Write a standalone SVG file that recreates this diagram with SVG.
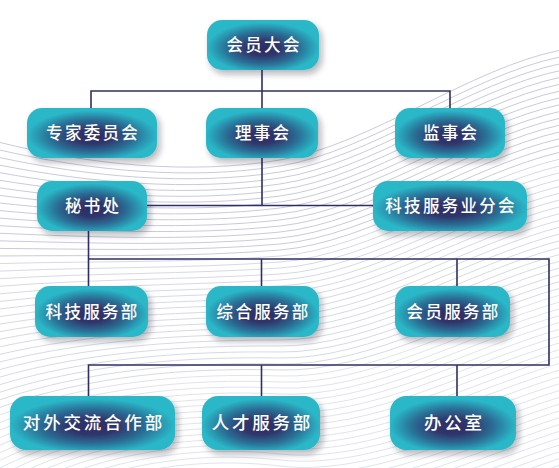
<svg xmlns="http://www.w3.org/2000/svg" width="559" height="468" viewBox="0 0 559 468">
<defs>
<radialGradient id="g" cx="0.5" cy="0.55" r="0.5" fx="0.5" fy="0.58">
<stop offset="0" stop-color="#2e2b62"/>
<stop offset="0.3" stop-color="#2f376c"/>
<stop offset="0.65" stop-color="#2b6f96"/>
<stop offset="1" stop-color="#2ab8c8"/>
</radialGradient>
<filter id="sh" x="-20%" y="-30%" width="140%" height="170%">
<feDropShadow dx="3" dy="4" stdDeviation="3" flood-color="#1a1a2a" flood-opacity="0.32"/>
</filter>
</defs>
<style>
.bg path{fill:none;stroke-width:1}
.a path{stroke:#c9cbdb}
.b path{stroke:#d6dae4}
.c path{stroke:#e0e4eb}
.node rect{fill:url(#g);filter:url(#sh)}
.node text{fill:#ffffff;font-family:"Noto Sans CJK SC","Noto Sans",sans-serif;font-weight:500;font-size:16.5px;letter-spacing:2.3px;text-anchor:middle}
.big text{font-size:17.5px;letter-spacing:2.8px}
.conn path{fill:none;stroke:#2f2f66;stroke-width:1.6}
</style>
<rect width="559" height="468" fill="#ffffff"/>
<g class="bg">
<g class="a">
<path d="M-2,142 C90,165 190,175 280,160 S470,68 561,50"/>
<path d="M-2,149.6 C90,171 190,180.5 280,166 S470,75 561,56.8"/>
<path d="M-2,157.2 C90,177 190,186 280,172 S470,82 561,63.6"/>
<path d="M-2,164.8 C90,183 190,191.5 280,178 S470,89 561,70.4"/>
<path d="M-2,172.4 C90,189 190,197 280,184 S470,96 561,77.2"/>
<path d="M-2,180 C90,195 190,202.5 280,190 S470,103 561,84"/>
<path d="M-2,187.6 C90,201 190,208 280,196 S470,110 561,90.8"/>
<path d="M-2,195.2 C90,207 190,213.5 280,202 S470,117 561,97.6"/>
<path d="M-2,202.8 C90,213 190,219 280,208 S470,124 561,104.4"/>
<path d="M-2,210.4 C90,219 190,224.5 280,214 S470,131 561,111.2"/>
<path d="M-2,218 C90,225 190,230 280,220 S470,138 561,118"/>
<path d="M-2,225.6 C90,231 190,235.5 280,226 S470,145 561,124.8"/>
<path d="M-2,233.2 C90,237 190,241 280,232 S470,152 561,131.6"/>
<path d="M-2,240.8 C90,243 190,246.5 280,238 S470,159 561,138.4"/>
<path d="M-2,248.4 C90,249 190,252 280,244 S470,166 561,145.2"/>
<path d="M-2,256 C90,255 190,257.5 280,250 S470,173 561,152"/>
</g>
<g class="b">
<path d="M-2,263.6 C90,261 190,263 280,256 S470,180 561,158.8"/>
<path d="M-2,271.2 C90,267 190,268.5 280,262 S470,187 561,165.6"/>
<path d="M-2,278.8 C90,273 190,274 280,268 S470,194 561,172.4"/>
<path d="M-2,286.4 C90,279 190,279.5 280,274 S470,201 561,179.2"/>
<path d="M-2,294 C90,285 190,285 280,280 S470,208 561,186"/>
<path d="M-2,301.6 C90,291 190,290.5 280,286 S470,215 561,192.8"/>
<path d="M-2,309.2 C90,297 190,296 280,292 S470,222 561,199.6"/>
<path d="M-2,316.8 C90,303 190,301.5 280,298 S470,229 561,206.4"/>
<path d="M-2,324.4 C90,309 190,307 280,304 S470,236 561,213.2"/>
<path d="M-2,332 C90,315 190,312.5 280,310 S470,243 561,220"/>
<path d="M-2,339.6 C90,321 190,318 280,316 S470,250 561,226.8"/>
<path d="M-2,347.2 C90,327 190,323.5 280,322 S470,257 561,233.6"/>
<path d="M-2,354.8 C90,333 190,329 280,328 S470,264 561,240.4"/>
<path d="M-2,362.4 C90,339 190,334.5 280,334 S470,271 561,247.2"/>
<path d="M-2,370 C90,345 190,340 280,340 S470,278 561,254"/>
<path d="M-2,377.6 C90,351 190,345.5 280,346 S470,285 561,260.8"/>
<path d="M-2,385.2 C90,357 190,351 280,352 S470,292 561,267.6"/>
<path d="M-2,392.8 C90,363 190,356.5 280,358 S470,299 561,274.4"/>
<path d="M-2,400.4 C90,369 190,362 280,364 S470,306 561,281.2"/>
<path d="M-2,408 C90,375 190,367.5 280,370 S470,313 561,288"/>
</g>
<g class="c">
<path d="M-2,415.6 C90,381 190,373 280,376 S470,320 561,294.8"/>
<path d="M-2,423.2 C90,387 190,378.5 280,382 S470,327 561,301.6"/>
<path d="M-2,430.8 C90,393 190,384 280,388 S470,334 561,308.4"/>
<path d="M-2,438.4 C90,399 190,389.5 280,394 S470,341 561,315.2"/>
<path d="M-2,446 C90,405 190,395 280,400 S470,348 561,322"/>
<path d="M-2,453.6 C90,411 190,400.5 280,406 S470,355 561,328.8"/>
<path d="M-2,461.2 C90,417 190,406 280,412 S470,362 561,335.6"/>
<path d="M-2,468.8 C90,423 190,411.5 280,418 S470,369 561,342.4"/>
<path d="M-2,476.4 C90,429 190,417 280,424 S470,376 561,349.2"/>
<path d="M-2,484 C90,435 190,422.5 280,430 S470,383 561,356"/>
<path d="M-2,491.6 C90,441 190,428 280,436 S470,390 561,362.8"/>
<path d="M-2,499.2 C90,447 190,433.5 280,442 S470,397 561,369.6"/>
<path d="M-2,506.8 C90,453 190,439 280,448 S470,404 561,376.4"/>
<path d="M-2,514.4 C90,459 190,444.5 280,454 S470,411 561,383.2"/>
<path d="M-2,522 C90,465 190,450 280,460 S470,418 561,390"/>
<path d="M-2,529.6 C90,471 190,455.5 280,466 S470,425 561,396.8"/>
<path d="M-2,537.2 C90,477 190,461 280,472 S470,432 561,403.6"/>
<path d="M-2,544.8 C90,483 190,466.5 280,478 S470,439 561,410.4"/>
<path d="M-2,552.4 C90,489 190,472 280,484 S470,446 561,417.2"/>
<path d="M-2,560 C90,495 190,477.5 280,490 S470,453 561,424"/>
<path d="M-2,567.6 C90,501 190,483 280,496 S470,460 561,430.8"/>
<path d="M-2,575.2 C90,507 190,488.5 280,502 S470,467 561,437.6"/>
<path d="M-2,582.8 C90,513 190,494 280,508 S470,474 561,444.4"/>
<path d="M-2,590.4 C90,519 190,499.5 280,514 S470,481 561,451.2"/>
<path d="M-2,598 C90,525 190,505 280,520 S470,488 561,458"/>
<path d="M-2,605.6 C90,531 190,510.5 280,526 S470,495 561,464.8"/>
</g>
</g>
<g id="connectors" class="conn">
<path d="M262,70 V108"/>
<path d="M91,108 V91 H450 V108"/>
<path d="M262,158 V205.5"/>
<path d="M147,205.5 H374"/>
<path d="M88.5,231 V286"/>
<path d="M88.5,259 H549 V365 H88.5 V396"/>
<path d="M261.5,259 V286"/>
<path d="M457,259 V286"/>
<path d="M261.5,365 V396"/>
<path d="M457,365 V396"/>
</g>
<g id="n-huiyuandahui" class="node"><rect x="207" y="20" width="112" height="50" rx="15"/><text x="264.1" y="51">会员大会</text></g>
<g id="n-zhuanjia" class="node"><rect x="27" y="108" width="130" height="50" rx="15"/><text x="93.1" y="139">专家委员会</text></g>
<g id="n-lishihui" class="node"><rect x="206" y="108" width="112" height="50" rx="15"/><text x="263.1" y="139">理事会</text></g>
<g id="n-jianshihui" class="node"><rect x="395" y="108" width="110" height="50" rx="15"/><text x="451.1" y="139">监事会</text></g>
<g id="n-mishuchu" class="node"><rect x="37" y="181" width="110" height="50" rx="15"/><text x="93.1" y="212">秘书处</text></g>
<g id="n-fenhui" class="node"><rect x="373" y="181" width="154" height="50" rx="15"/><text x="451.1" y="212">科技服务业分会</text></g>
<g id="n-kejibu" class="node"><rect x="35" y="286" width="113" height="51" rx="15"/><text x="92.6" y="317.5">科技服务部</text></g>
<g id="n-zonghebu" class="node"><rect x="206" y="286" width="113" height="51" rx="15"/><text x="263.6" y="317.5">综合服务部</text></g>
<g id="n-huiyuanbu" class="node"><rect x="395" y="286" width="115" height="51" rx="15"/><text x="453.6" y="317.5">会员服务部</text></g>
<g id="n-duiwai" class="node big"><rect x="10" y="396" width="165" height="54" rx="16"/><text x="93.9" y="429">对外交流合作部</text></g>
<g id="n-rencai" class="node big"><rect x="202" y="396" width="118" height="54" rx="16"/><text x="262.4" y="429">人才服务部</text></g>
<g id="n-bangongshi" class="node big"><rect x="390" y="396" width="126" height="54" rx="16"/><text x="454.4" y="429">办公室</text></g>
</svg>
